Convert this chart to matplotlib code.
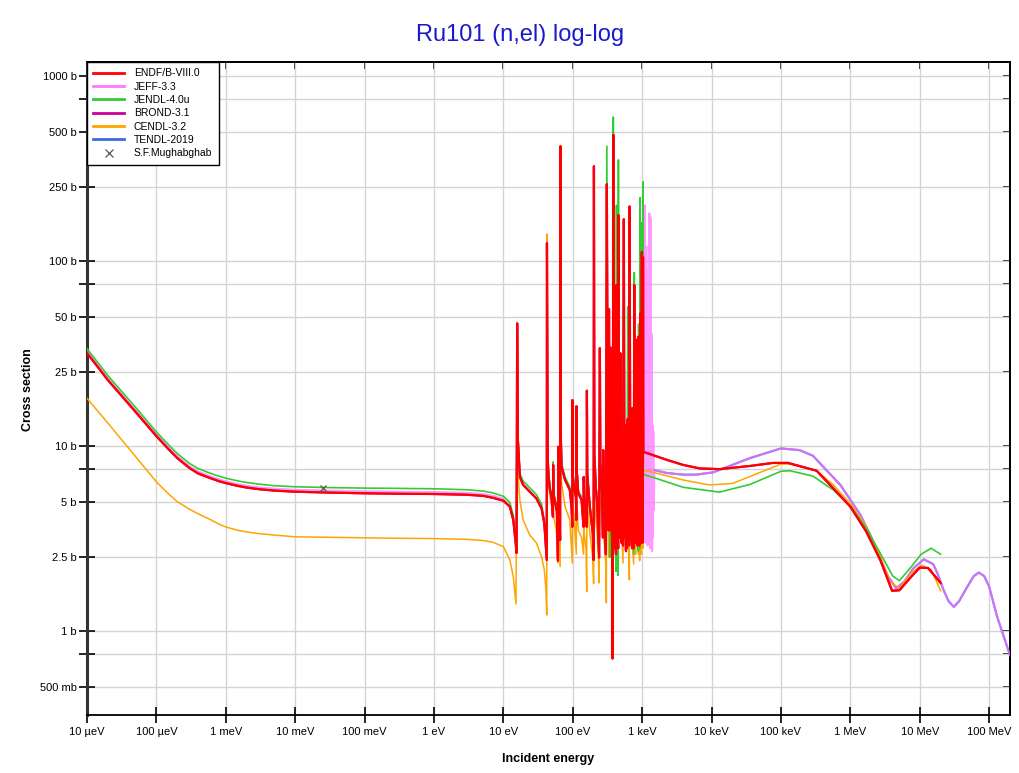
import numpy as np
import matplotlib
matplotlib.use('Agg')
import matplotlib.pyplot as plt
from matplotlib.lines import Line2D
from matplotlib.ticker import NullLocator

plt.rcParams['font.family'] = ['Liberation Sans', 'DejaVu Sans']

TITLE = "Ru101 (n,el) log-log"
XLABEL = "Incident energy"
YLABEL = "Cross section"

X_TICKS = [1e-5, 1e-4, 1e-3, 1e-2, 1e-1, 1, 10, 100, 1e3, 1e4, 1e5, 1e6, 1e7, 1e8]
X_TICK_LABELS = ["10 µeV", "100 µeV", "1 meV", "10 meV", "100 meV", "1 eV", "10 eV",
                 "100 eV", "1 keV", "10 keV", "100 keV", "1 MeV", "10 MeV", "100 MeV"]
Y_TICKS = [0.5, 0.75, 1, 2.5, 5, 7.5, 10, 25, 50, 75, 100, 250, 500, 750, 1000]
Y_TICK_LABELS = ["500 mb", "", "1 b", "2.5 b", "5 b", "", "10 b", "25 b", "50 b", "",
                 "100 b", "250 b", "500 b", "", "1000 b"]

# ---------------- ENDF/B-VIII.0 (E in eV, XS in b) ----------------
ENDF_E = [1e-5, 2e-5, 5e-5, 1e-4, 1.5e-4, 2e-4, 3e-4, 4e-4, 6e-4, 8e-4, 1e-3, 1.5e-3, 2e-3,
          3e-3, 5e-3, 1e-2, 3e-2, 0.1, 0.3,
          1, 3, 5.2, 7, 10, 12.4, 13.9, 14.9, 15.5, 15.8, 16.2, 17.3, 19.3, 24, 30, 35.5, 38.9,
          41, 42.2, 42.5, 43.5, 44.5, 46.9, 49.4, 51.8, 52.2, 53, 55.6, 59, 61.2, 61.6, 62.5,
          64.5, 65.8, 66.5, 67.5, 69, 77.5, 90.6, 96, 98.5, 99, 100, 104, 111, 112.5, 113, 114,
          120, 134, 143, 144, 146, 155, 159, 160, 162, 176, 194, 200, 202, 205, 215, 225, 236,
          240, 246, 250, 265, 272, 275, 280, 290, 300, 310, 320, 328, 333, 338, 345, 350, 356,
          365, 372, 375, 384, 392, 400, 405, 408, 412, 420, 427, 435, 440, 443, 448, 452, 455,
          462, 470, 475, 479, 485, 495, 503, 507, 512, 530, 545, 555, 563, 566, 570, 585, 590,
          596, 605, 620, 635, 650, 660, 675, 690, 695, 700, 715, 722, 730, 755, 770, 785, 795,
          800, 805, 820, 835, 850, 855, 860, 880, 890, 905, 912, 916, 920, 935, 950, 960, 965,
          975, 990, 1005, 1015, 1020, 1030, 1040, 2300, 3900, 6800, 13200, 35800, 77000,
          126000, 327000, 570000, 1.0e6, 1.7e6, 2.7e6, 4.0e6, 5.1e6, 7.6e6, 1.0e7, 1.32e7, 2.0e7]
ENDF_XS = [31.8, 22.7, 15.3, 11.3, 9.6, 8.6, 7.6, 7.1, 6.7, 6.45, 6.3, 6.08, 5.96,
           5.84, 5.74, 5.66, 5.6, 5.55, 5.52,
           5.5, 5.45, 5.37, 5.25, 5.06, 4.7, 3.98, 3.1, 2.64, 46, 10.8, 6.8, 6.16, 5.66, 5.2, 4.6,
           3.82, 2.85, 2.42, 125, 9.0, 7.1, 5.8, 5.3, 4.15, 7.9, 5.4, 5.0, 4.4, 2.4, 9.9, 5.5,
           4.0, 3.1, 417, 11, 7.74, 6.55, 5.8, 4.7, 3.66, 17.7, 7.0, 6.03, 5.3, 3.98, 16.4, 7.5,
           5.55, 5.1, 3.66, 6.8, 5.2, 4.5, 3.66, 19.9, 7.0, 4.7, 3.39, 2.42, 325, 9.0, 6.0, 4.8,
           2.9, 2.5, 33.8, 8.0, 5.5, 3.2, 9.5, 5.0, 3.8, 2.6, 260, 8.0, 3.5, 55, 6.0, 3.5, 34,
           6.5, 4.5, 2.2, 0.71, 480, 9.0, 5.2, 2.8, 12, 3.2, 2.6, 74, 6.0, 3.0, 15, 3.0, 2.8, 177,
           7.0, 3.2, 9, 3.5, 31.7, 5.5, 3.0, 11, 4.0, 2.9, 168, 7.0, 3.2, 13, 4.2, 2.7, 8, 3.2,
           2.8, 14, 4.5, 2.9, 197, 7.0, 3.1, 10, 4.5, 2.8, 16, 3.3, 2.8, 74, 5.5, 3.0, 9, 3.3,
           37.5, 5.5, 2.9, 12, 4.0, 3.1, 39, 5.0, 2.9, 20, 3.0, 52, 5.5, 3.0, 15, 3.2, 112, 6.0,
           3.0, 3.5, 105, 9.3, 8.4, 7.9, 7.56, 7.5, 7.8, 8.1, 8.1, 7.35, 5.9, 4.7, 3.44, 2.42,
           1.65, 1.66, 1.97, 2.2, 2.19, 1.82]

# ---------------- JEFF-3.3 ----------------
JEFF_THERMAL_E = [1e-5, 2e-5, 5e-5, 1e-4, 1.5e-4, 2e-4, 3e-4, 4e-4, 6e-4, 8e-4, 1e-3, 1.5e-3,
                  2e-3, 3e-3, 5e-3, 1e-2, 3e-2, 0.1, 0.3, 1, 3, 5.2, 7, 10]
JEFF_THERMAL_XS = [32.5, 23.2, 15.6, 11.55, 9.82, 8.8, 7.78, 7.27, 6.86, 6.6, 6.45, 6.22,
                   6.1, 5.97, 5.88, 5.8, 5.74, 5.69, 5.66, 5.64, 5.58, 5.5, 5.38, 5.18]
JEFF_URR_E = [1040, 1060, 1075, 1090, 1100, 1120, 1135, 1150, 1165, 1180, 1200, 1230, 1245,
              1265, 1280, 1300, 1315, 1330, 1350, 1375, 1390, 1410, 1430, 1450, 1470, 1500]
JEFF_URR_XS = [3.0, 60, 3.2, 200, 3.5, 30, 3.0, 120, 4.0, 30.4, 2.9, 90, 3.3, 181, 3.0, 175,
               2.8, 170, 3.1, 40, 2.7, 13, 3.2, 12, 4.5, 7.4]
JEFF_FAST_E = [1500, 2300, 3900, 6000, 10500, 35800, 100000, 185000, 290000, 410000, 720000,
               1.4e6, 2.1e6, 3.5e6, 4.6e6, 6.0e6, 8.1e6, 1.14e7, 1.56e7, 1.8e7, 2.2e7, 2.6e7,
               3.1e7, 3.7e7, 4.7e7, 6.0e7, 7.1e7, 8.5e7, 1.0e8, 1.3e8, 2.0e8]
JEFF_FAST_XS = [7.4, 7.14, 7.0, 7.0, 7.2, 8.6, 9.7, 9.5, 8.85, 7.7, 6.15, 4.24, 3.1, 1.97,
                1.70, 1.85, 2.18, 2.44, 2.30, 2.05, 1.67, 1.45, 1.35, 1.45, 1.70, 1.98, 2.07,
                1.98, 1.74, 1.2, 0.74]

# ---------------- JENDL-4.0u ----------------
JENDL_E = [1e-5, 2e-5, 5e-5, 1e-4, 1.5e-4, 2e-4, 3e-4, 4e-4, 6e-4, 8e-4, 1e-3, 1.5e-3, 2e-3,
           3e-3, 5e-3, 1e-2, 3e-2, 0.1, 0.3,
           1, 3, 5.2, 7, 10, 12.4, 13.9, 14.9, 15.5, 15.8, 16.2, 17.3, 19.3, 24, 30, 35.5, 38.9,
           41, 42.2, 42.5, 43.5, 44.5, 46.9, 49.4, 51.8, 52.2, 53, 55.6, 59, 61.2, 61.6, 62.5,
           64.5, 65.8, 66.5, 67.5, 69, 77.5, 90.6, 96, 98.5, 99, 100, 104, 111, 112.5, 113, 114,
           120, 134, 143, 144, 146, 155, 159, 160, 162, 176, 194, 200, 202, 205, 215, 225, 236,
           240, 246, 250, 265, 280, 290, 300, 310, 320, 328, 333, 338, 345, 350, 356, 365, 372,
           384, 392, 400, 412, 420, 427, 435, 448, 455, 462, 475, 485, 495, 510, 530, 545, 555,
           570, 590, 605, 620, 635, 650, 660, 675, 700, 730, 755, 770, 785, 805, 820, 835, 860,
           880, 890, 905, 920, 935, 950, 975, 990, 1005, 1020, 1030, 1040, 1430, 3900, 13000,
           36000, 100000, 135000, 290000, 570000, 1.04e6, 1.7e6, 2.7e6, 4.1e6, 5.1e6, 7.6e6,
           1.05e7, 1.46e7, 2.0e7]
JENDL_XS = [33.6, 24.0, 16.2, 11.9, 10.15, 9.1, 8.05, 7.55, 7.12, 6.86, 6.7, 6.47, 6.35,
            6.22, 6.1, 6.02, 5.96, 5.92, 5.9,
            5.87, 5.8, 5.7, 5.58, 5.35, 4.95, 4.2, 3.3, 2.8, 45, 11.2, 7.1, 6.45, 5.95, 5.45, 4.85,
            4.0, 3.0, 2.5, 122, 9.3, 7.4, 6.05, 5.55, 4.3, 8.2, 5.6, 5.2, 4.6, 2.8, 9.5, 5.7, 4.2,
            3.2, 410, 11.5, 8.0, 6.8, 6.0, 4.9, 3.8, 17, 7.2, 6.2, 5.5, 4.1, 16, 7.7, 5.75, 5.3,
            3.8, 6.6, 5.4, 4.7, 3.8, 19, 7.2, 4.9, 3.5, 2.5, 320, 9.2, 6.2, 5.0, 3.0, 2.6, 33,
            8.2, 5.6, 5.1, 3.9, 2.6, 417, 8.0, 3.5, 50, 6.0, 2.5, 2.52, 6.5, 4.5, 2.5, 600, 9.0,
            5.2, 3.0, 2.1, 200, 6.0, 2.0, 352, 7.0, 3.5, 30, 5.5, 4.0, 2.9, 165, 7.0, 4.2, 3.2,
            2.8, 56.6, 4.5, 2.9, 195, 7.0, 4.5, 3.3, 2.6, 86.6, 5.5, 3.3, 36, 5.5, 4.0, 2.7, 45.6,
            5.0, 2.8, 220, 5.5, 3.2, 161, 6.0, 3.0, 268, 7.0, 6.77, 5.98, 5.63, 6.2, 7.3, 7.35,
            6.87, 5.78, 4.66, 3.59, 2.63, 1.98, 1.87, 2.23, 2.6, 2.8, 2.6]

# ---------------- CENDL-3.2 ----------------
CENDL_E = [1e-5, 2e-5, 5e-5, 1e-4, 1.5e-4, 2e-4, 3e-4, 4e-4, 6e-4, 8e-4, 1e-3, 1.5e-3, 2e-3,
           3e-3, 5e-3, 1e-2, 3e-2, 0.1, 0.3,
           1, 3, 5.2, 7, 10, 12.4, 13.9, 14.7, 15.2, 15.8, 16.2, 17.3, 19.3, 24, 30, 35.5, 38.9,
           41, 42.2, 42.5, 43.5, 44.5, 47, 52, 52.2, 53, 58, 61.2, 61.6, 62.5, 65.8, 66.5, 67.5,
           69, 77.5, 90.6, 98.5, 99, 100, 104, 112.5, 113, 114, 120, 134, 143, 144, 146, 155, 159,
           160, 162, 176, 194, 200, 202, 205, 215, 225, 236, 240, 246, 250, 265, 290, 300, 305,
           310, 320, 330, 333, 338, 350, 356, 375, 384, 392, 410, 420, 427, 435, 448, 455, 462,
           485, 495, 530, 545, 555, 590, 620, 635, 655, 660, 675, 700, 755, 770, 785, 805, 820,
           835, 880, 890, 905, 920, 935, 950, 975, 990, 1005, 1020, 1030, 1040, 1430, 3900, 9300,
           20000, 100000, 135000, 327000, 570000, 1.04e6, 1.7e6, 2.7e6, 3.7e6, 5.1e6, 7.6e6,
           1.05e7, 1.46e7, 2.0e7]
CENDL_XS = [18.1, 13.3, 8.76, 6.4, 5.5, 5.0, 4.55, 4.3, 4.0, 3.78, 3.65, 3.5, 3.43,
            3.36, 3.3, 3.23, 3.21, 3.19, 3.17,
            3.16, 3.13, 3.08, 3.02, 2.86, 2.42, 1.97, 1.6, 1.4, 40, 7.0, 5.1, 3.98, 3.3, 2.99,
            2.52, 2.14, 1.7, 1.22, 140, 8.0, 6.3, 5.3, 4.3, 6.5, 4.2, 3.5, 2.33, 8, 4.0, 2.23, 380,
            9, 6.3, 4.7, 3.98, 2.33, 16, 5, 4.3, 2.6, 15, 5, 3.5, 3.2, 2.6, 6, 3.4, 2.8, 1.63, 18,
            5, 3.39, 2.5, 1.8, 300, 7, 4.0, 3.3, 2.3, 1.82, 30, 6, 3.8, 2.8, 2.2, 1.42, 240, 6,
            2.5, 45, 4, 30, 5, 2.5, 400, 7, 3.3, 2.23, 60, 4, 2.4, 160, 5, 28, 4, 2.33, 150, 5.5,
            2.8, 12, 3.5, 1.89, 180, 5, 3.5, 2.3, 70, 4.5, 2.6, 33, 4.5, 2.6, 35, 4, 2.4, 48, 4.5,
            2.6, 100, 5, 2.8, 95, 7.4, 7.2, 6.55, 6.16, 6.27, 7.98, 8.0, 7.35, 6.16, 4.8, 3.66,
            2.52, 1.85, 1.7, 2.05, 2.27, 2.15, 1.65]

# ---------------- Experimental point ----------------
MUGH_E = [0.0253]
MUGH_XS = [5.95]

COLORS = {
    "ENDF/B-VIII.0": "#FF0000",
    "JEFF-3.3": "#FF77FF",
    "JENDL-4.0u": "#33CC33",
    "BROND-3.1": "#CC0099",
    "CENDL-3.2": "#FFA500",
    "TENDL-2019": "#4169E1",
}

fig = plt.figure(figsize=(10.2, 7.73), dpi=100)
ax = fig.add_axes([87 / 1020, 58 / 773, 923 / 1020, 653 / 773])
ax.set_xscale('log')
ax.set_yscale('log')

endf_e = np.array(ENDF_E)
endf_xs = np.array(ENDF_XS)
res_mask = (endf_e > 11) & (endf_e <= 1035)
jeff_e = np.concatenate([JEFF_THERMAL_E, endf_e[res_mask], JEFF_URR_E, JEFF_FAST_E[1:]])
jeff_xs = np.concatenate([JEFF_THERMAL_XS, endf_xs[res_mask], JEFF_URR_XS, JEFF_FAST_XS[1:]])

ax.plot(JEFF_FAST_E, JEFF_FAST_XS, color=COLORS["TENDL-2019"], lw=1.5, zorder=2)
ax.plot(jeff_e, jeff_xs, color=COLORS["JEFF-3.3"], lw=1.5, alpha=0.75, zorder=3)
ax.plot(CENDL_E, CENDL_XS, color=COLORS["CENDL-3.2"], lw=1.1, zorder=4)
ax.plot(JENDL_E, JENDL_XS, color=COLORS["JENDL-4.0u"], lw=1.2, zorder=5)
ax.plot(ENDF_E, ENDF_XS, color=COLORS["BROND-3.1"], lw=1.5, zorder=5.5)
ax.plot(ENDF_E, ENDF_XS, color=COLORS["ENDF/B-VIII.0"], lw=1.6, zorder=6)
ax.plot(MUGH_E, MUGH_XS, linestyle='none', marker='x', color='#555555', ms=5, mew=0.9, zorder=7)

ax.set_xlim(1e-5, 2e8)
ax.set_ylim(0.3515, 1190)

ax.set_xticks(X_TICKS, X_TICK_LABELS)
ax.set_yticks(Y_TICKS, Y_TICK_LABELS)
ax.minorticks_off()
ax.grid(True, which='major', color='#d4d4d4', lw=1.0, zorder=0)
ax.set_axisbelow(True)
ax.tick_params(axis='both', which='major', direction='inout', length=11, width=1.2,
               labelsize=8, top=False, right=False, pad=3, colors='black')
ax.tick_params(axis='y', pad=2)

secx = ax.secondary_xaxis('top')
secx.set_xticks(X_TICKS)
secx.xaxis.set_minor_locator(NullLocator())
secx.tick_params(direction='in', length=5, width=1.2, labeltop=False)
secy = ax.secondary_yaxis('right')
secy.set_yticks(Y_TICKS)
secy.yaxis.set_minor_locator(NullLocator())
secy.tick_params(direction='in', length=5, width=1.2, labelright=False)
for sa in (secx, secy):
    for sp in sa.spines.values():
        sp.set_linewidth(1.3)

for s in ['top', 'right', 'bottom']:
    ax.spines[s].set_linewidth(1.3)
    ax.spines[s].set_color('black')
ax.spines['left'].set_linewidth(2.2)
ax.spines['left'].set_color('#333333')

fig.suptitle(TITLE, x=0.51, y=1 - 35 / 773, va='center', fontsize=17, color='#1a1acc')
ax.set_xlabel(XLABEL, fontsize=9, fontweight='bold', labelpad=12)
ax.set_ylabel(YLABEL, fontsize=9, fontweight='bold')
ax.yaxis.set_label_coords(-(87 - 34) / 923, (715 - 390) / 653)

handles = [Line2D([], [], color=COLORS[k], lw=2) for k in COLORS]
handles.append(Line2D([], [], linestyle='none', marker='x', color='#555555', ms=6, mew=0.9))
labels = list(COLORS.keys()) + ["S.F.Mughabghab"]
leg = ax.legend(handles, labels, loc='upper left', fontsize=7.5, frameon=True, fancybox=False,
                borderpad=0.6, labelspacing=0.32, handlelength=3.0, handletextpad=0.9,
                borderaxespad=0.0, framealpha=1)
leg.get_frame().set_edgecolor('black')
leg.get_frame().set_linewidth(1.0)
leg.set_zorder(20)

fig.savefig('out.png', dpi=100)
